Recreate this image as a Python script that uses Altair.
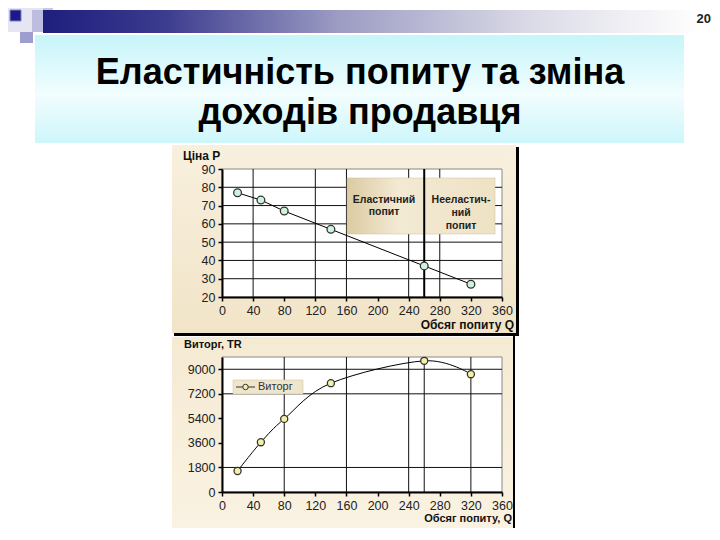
import altair as alt
import pandas as pd

# ---------------- data ----------------
Q = [20, 50, 80, 140, 260, 320]          # quantity demanded
P = [77, 73, 67, 57, 37, 27]             # price
TR = [1540, 3650, 5360, 7980, 9620, 8640]  # total revenue

X_TICKS = [0, 40, 80, 120, 160, 200, 240, 280, 320, 360]
P_TICKS = [20, 30, 40, 50, 60, 70, 80, 90]
TR_TICKS = [0, 1800, 3600, 5400, 7200, 9000]
TOP_XGRID = [40, 120, 160, 240, 280]
TOP_YGRID = [30, 40, 50, 60, 70, 80]
BOT_XGRID = [80, 160, 240, 260, 320]
BOT_YGRID = [1800, 7200, 9000]
BOUNDARY_Q = [260]

TITLE_LINES = ["Еластичність попиту та зміна", "доходів продавця"]
PAGE_NO = "20"
ELASTIC = ["Еластичний", "попит"]
INELASTIC = ["Нееластич-", "ний", "попит"]
TOP_YTITLE = "Ціна Р"
TOP_XTITLE = "Обсяг попиту Q"
BOT_YTITLE = "Виторг, TR"
BOT_XTITLE = "Обсяг попиту, Q"
LEGEND_LABEL = "Виторг"

FONT = "Liberation Sans"

# ---------------- layout (page pixels) ----------------
W = 280
H1, H2 = 128, 135
OX = 222
OY1, OY2 = 169, 357

one = pd.DataFrame({"k": [0]})
demand = pd.DataFrame({"Q": Q, "P": P})
revenue = pd.DataFrame({"Q": Q, "TR": TR})


def rect(x0, y0, x1, y1, oy, **kw):
    return alt.Chart(one).mark_rect(**kw).encode(
        x=alt.value(x0 - OX), x2=alt.value(x1 - OX),
        y=alt.value(y0 - oy), y2=alt.value(y1 - oy))


def text(t, px, py, oy, **kw):
    kw.setdefault("font", FONT)
    return alt.Chart(one).mark_text(text=t, **kw).encode(
        x=alt.value(px - OX), y=alt.value(py - oy))


def grad(stops, horizontal=True):
    return alt.Gradient(
        gradient="linear",
        stops=[alt.GradientStop(color=c, offset=o) for o, c in stops],
        x1=0, x2=1 if horizontal else 0, y1=0, y2=0 if horizontal else 1)


axis_common = dict(
    grid=False, zindex=1, domainColor="#000", domainWidth=2,
    tickColor="#000", tickWidth=1.5, tickSize=4, labelFont=FONT,
    labelFontSize=12.5, labelColor="#222", labelPadding=3, title=None,
    format="d")

xs = alt.Scale(domain=[0, 360], nice=False, zero=False)
ys1 = alt.Scale(domain=[20, 90], nice=False, zero=False)
ys2 = alt.Scale(domain=[0, 9900], nice=False, zero=False)
xax = alt.Axis(values=X_TICKS, labelFlush=False, **axis_common)
yax1 = alt.Axis(values=P_TICKS, **axis_common)
yax2 = alt.Axis(values=TR_TICKS, **axis_common)

# ---------------- top chart (with slide header) ----------------
header = [
    rect(8, 8, 53, 32, OY1, fill="#E6E6F3"),
    rect(43, 8, 53, 20, OY1, fill="#C9C9E6"),
    rect(32, 10, 43, 32, OY1, fill="#BDBDDF"),
    rect(20, 32, 33, 43, OY1, fill="#9D9DCF"),
    rect(43, 10, 700, 33, OY1,
         fill=grad([(0, "#1E1E7E"), (0.18, "#3A3A8E"), (0.45, "#9C9CC4"),
                    (0.75, "#DCDCE8"), (1, "#FFFFFF")])),
    rect(10, 10, 21, 21, OY1, fill="#1A1A8C", stroke="#8080C0", strokeWidth=1),
    rect(35, 35, 684, 143, OY1,
         fill=grad([(0, "#C6F5FA"), (0.55, "#F2FDFE"), (1, "#CDF6FB")],
                   horizontal=False)),
    text(TITLE_LINES[0], 360, 73, OY1, fontSize=36, fontWeight="bold",
         color="#000", align="center", baseline="middle"),
    text(TITLE_LINES[1], 360, 113, OY1, fontSize=36, fontWeight="bold",
         color="#000", align="center", baseline="middle"),
    text(PAGE_NO, 711, 19, OY1, fontSize=13, fontWeight="bold",
         color="#222", align="right", baseline="middle"),
]

top_layers = header + [
    rect(172, 145, 516, 333, OY1,
         fill=grad([(0, "#F8F0DE"), (1, "#F1E4C8")], horizontal=False)),
    rect(516, 147, 519, 336, OY1, fill="#000"),
    rect(174, 333, 519, 336, OY1, fill="#000"),
    rect(OX, OY1, OX + W, OY1 + H1, OY1, fill="#FFFFFF",
         stroke="#888", strokeWidth=1),
    alt.Chart(pd.DataFrame({"g": TOP_XGRID})).mark_rule(
        color="#111", strokeWidth=1).encode(
        x=alt.X("g:Q", scale=xs, axis=xax)),
    alt.Chart(pd.DataFrame({"g": TOP_YGRID})).mark_rule(
        color="#111", strokeWidth=1).encode(
        y=alt.Y("g:Q", scale=ys1, axis=yax1)),
    rect(347, 178, 495, 234, OY1,
         fill=grad([(0, "#DCCBA2"), (0.35, "#F3EAD4"), (1, "#EEE2C4")]),
         stroke="#CDBE98", strokeWidth=0.5),
    alt.Chart(pd.DataFrame({"g": BOUNDARY_Q})).mark_rule(
        color="#000", strokeWidth=2).encode(
        x=alt.X("g:Q", scale=xs, axis=xax)),
    text(ELASTIC, 384, 200, OY1, fontSize=10.5, fontWeight="bold",
         color="#222", align="center", baseline="middle", lineHeight=12),
    text(INELASTIC, 461, 200, OY1, fontSize=10.5, fontWeight="bold",
         color="#222", align="center", baseline="middle", lineHeight=13),
    alt.Chart(demand).mark_line(color="#000", strokeWidth=1).encode(
        x=alt.X("Q:Q", scale=xs, axis=xax),
        y=alt.Y("P:Q", scale=ys1, axis=yax1)),
    alt.Chart(demand).mark_point(
        filled=True, fill="#CFF2DF", stroke="#333", strokeWidth=1.3,
        size=60, opacity=1).encode(
        x=alt.X("Q:Q", scale=xs, axis=xax),
        y=alt.Y("P:Q", scale=ys1, axis=yax1)),
    text(TOP_YTITLE, 183, 156, OY1, fontSize=12, fontWeight="bold",
         color="#111", align="left", baseline="middle"),
    text(TOP_XTITLE, 514, 325, OY1, fontSize=12, fontWeight="bold",
         color="#111", align="right", baseline="middle"),
]

top = alt.layer(*top_layers).properties(width=W, height=H1)

# ---------------- bottom chart ----------------
bot_layers = [
    rect(172, 337, 513, 528, OY2,
         fill=grad([(0, "#F5EAD2"), (1, "#FAF2E2")], horizontal=False)),
    rect(513, 336, 515, 528, OY2, fill="#000"),
    rect(OX, OY2, OX + W, OY2 + H2, OY2, fill="#FFFFFF",
         stroke="#888", strokeWidth=1),
    alt.Chart(pd.DataFrame({"g": BOT_XGRID})).mark_rule(
        color="#111", strokeWidth=1).encode(
        x=alt.X("g:Q", scale=xs, axis=xax)),
    alt.Chart(pd.DataFrame({"g": BOT_YGRID})).mark_rule(
        color="#111", strokeWidth=1).encode(
        y=alt.Y("g:Q", scale=ys2, axis=yax2)),
    alt.Chart(revenue).mark_line(color="#000", strokeWidth=1,
                                 interpolate="cardinal").encode(
        x=alt.X("Q:Q", scale=xs, axis=xax),
        y=alt.Y("TR:Q", scale=ys2, axis=yax2)),
    alt.Chart(revenue).mark_point(
        filled=True, fill="#F3F0A6", stroke="#333", strokeWidth=1.3,
        size=50, opacity=1).encode(
        x=alt.X("Q:Q", scale=xs, axis=xax),
        y=alt.Y("TR:Q", scale=ys2, axis=yax2)),
    rect(233, 380, 303, 394, OY2, fill="#EFE5CC", stroke="#CBBE9A",
         strokeWidth=0.5),
    alt.Chart(one).mark_rule(color="#333", strokeWidth=1).encode(
        x=alt.value(236 - OX), x2=alt.value(255 - OX), y=alt.value(387 - OY2)),
    alt.Chart(one).mark_point(filled=True, fill="#F3F0A6", stroke="#333",
                              strokeWidth=1, size=30, opacity=1).encode(
        x=alt.value(245.5 - OX), y=alt.value(387 - OY2)),
    text(LEGEND_LABEL, 258, 387, OY2, fontSize=11, color="#333",
         align="left", baseline="middle"),
    text(BOT_YTITLE, 184, 345, OY2, fontSize=11, fontWeight="bold",
         color="#111", align="left", baseline="middle"),
    text(BOT_XTITLE, 512, 519, OY2, fontSize=11, fontWeight="bold",
         color="#111", align="right", baseline="middle"),
]

bottom = alt.layer(*bot_layers).properties(width=W, height=H2)

chart = alt.vconcat(top, bottom, spacing=OY2 - OY1 - H1, bounds="flush").properties(
    padding=0, background="white"
).configure_view(stroke=None)

chart.save("out.html", embed_options={"renderer": "svg", "actions": False})
